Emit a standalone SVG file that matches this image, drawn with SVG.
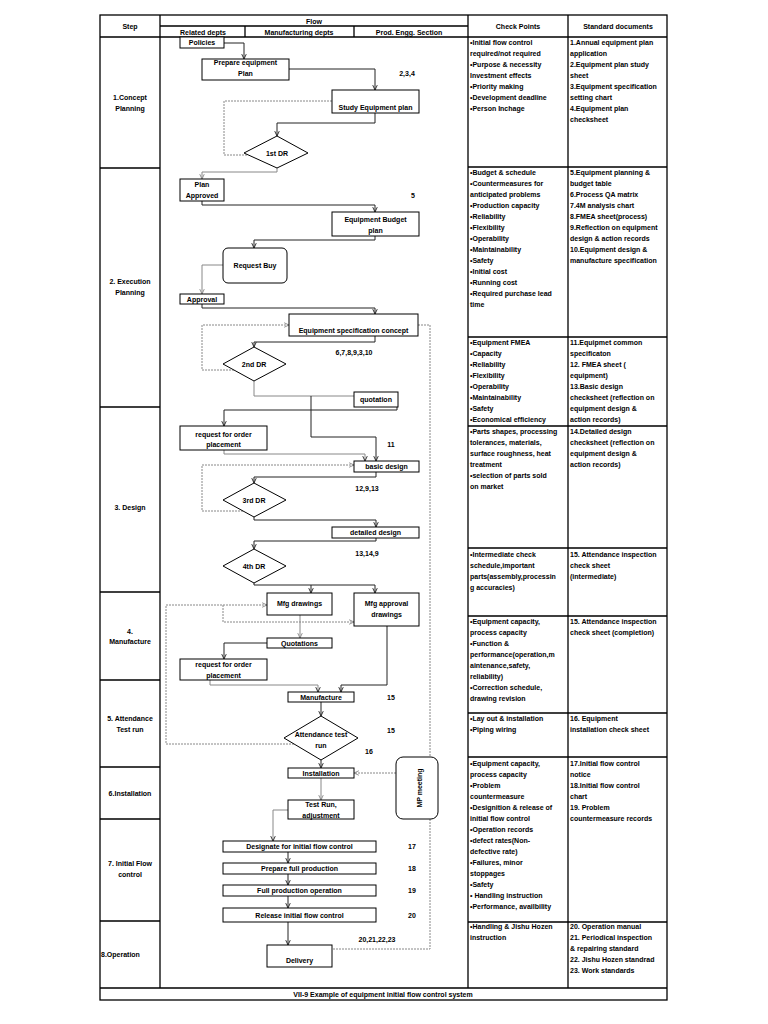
<svg xmlns="http://www.w3.org/2000/svg" width="768" height="1024" viewBox="0 0 768 1024">
<defs>
<style>
text{font-family:"Liberation Sans",Arial,sans-serif;font-weight:bold;font-size:7px;fill:#000}
.c{text-anchor:middle}
.t{stroke:#000;stroke-width:1.3;fill:none}
.n{fill:#fff;stroke:#000;stroke-width:1}
.k{fill:none;stroke:#222;stroke-width:1}
.g{fill:none;stroke:#888;stroke-width:1}
.d{fill:none;stroke:#888;stroke-width:1;stroke-dasharray:2,1}
</style>
<marker id="a" viewBox="0 0 8 8" refX="7.5" refY="4" markerWidth="6" markerHeight="6" markerUnits="userSpaceOnUse" orient="auto"><path d="M1,1 L7.5,4 L1,7" fill="none" stroke="#222" stroke-width="1.2"/></marker>
<marker id="ag" viewBox="0 0 8 8" refX="7.5" refY="4" markerWidth="6" markerHeight="6" markerUnits="userSpaceOnUse" orient="auto"><path d="M1,1 L7.5,4 L1,7" fill="none" stroke="#888" stroke-width="1.2"/></marker>
</defs>
<rect width="768" height="1024" fill="#fff"/>

<g id="table">
<rect class="t" x="100" y="15" width="567" height="985"/>
<path class="t" d="M160,15V988M468,15V988M568,15V988M100,37H667M160,26H468M245,26V37M354,26V37M100,988H667"/>
<path class="t" d="M100,168H160M100,407H160M100,592H160M100,680H160M100,767H160M100,819H160M100,921H160"/>
<path class="t" d="M468,167H667M468,337H667M468,426H667M468,548H667M468,616H667M468,713H667M468,757H667M468,922H667"/>
<text class="c" x="130" y="28.5">Step</text>
<text class="c" x="314" y="24">Flow</text>
<text class="c" x="203" y="34.5">Related depts</text>
<text class="c" x="299" y="34.5">Manufacturing depts</text>
<text class="c" x="409" y="34.5">Prod. Engg. Section</text>
<text class="c" x="518" y="28.5">Check Points</text>
<text class="c" x="618" y="28.5">Standard documents</text>
<text class="c" x="383" y="997">VII-9 Example of equipment initial flow control system</text>
</g>

<g id="steps">
<text class="c" x="130" y="99.5">1.Concept<tspan x="130" dy="11">Planning</tspan></text>
<text class="c" x="130" y="284">2. Execution<tspan x="130" dy="11">Planning</tspan></text>
<text class="c" x="130" y="510">3. Design</text>
<text class="c" x="130" y="634">4.<tspan x="130" dy="10">Manufacture</tspan></text>
<text class="c" x="130" y="720.5">5. Attendance<tspan x="130" dy="11">Test run</tspan></text>
<text class="c" x="130" y="795.5">6.Installation</text>
<text class="c" x="130" y="865.5">7. Initial Flow<tspan x="130" dy="11">control</tspan></text>
<text x="101" y="956.5">8.Operation</text>
</g>

<g id="checkpoints">
<text x="470" y="45"><tspan x="470">•Initial flow control</tspan><tspan x="470" dy="11">required/not required</tspan><tspan x="470" dy="11">•Purpose &amp; necessity</tspan><tspan x="470" dy="11">Investment effects</tspan><tspan x="470" dy="11">•Priority making</tspan><tspan x="470" dy="11">•Development deadline</tspan><tspan x="470" dy="11">•Person Inchage</tspan></text>
<text x="470" y="174.5"><tspan x="470">•Budget &amp; schedule</tspan><tspan x="470" dy="11">•Countermeasures for</tspan><tspan x="470" dy="11">anticipated problems</tspan><tspan x="470" dy="11">•Production capacity</tspan><tspan x="470" dy="11">•Reliability</tspan><tspan x="470" dy="11">•Flexibility</tspan><tspan x="470" dy="11">•Operability</tspan><tspan x="470" dy="11">•Maintainability</tspan><tspan x="470" dy="11">•Safety</tspan><tspan x="470" dy="11">•Initial cost</tspan><tspan x="470" dy="11">•Running cost</tspan><tspan x="470" dy="11">•Required purchase lead</tspan><tspan x="470" dy="11">time</tspan></text>
<text x="470" y="345"><tspan x="470">•Equipment FMEA</tspan><tspan x="470" dy="11">•Capacity</tspan><tspan x="470" dy="11">•Reliability</tspan><tspan x="470" dy="11">•Flexibility</tspan><tspan x="470" dy="11">•Operability</tspan><tspan x="470" dy="11">•Maintainability</tspan><tspan x="470" dy="11">•Safety</tspan><tspan x="470" dy="11">•Economical efficiency</tspan></text>
<text x="470" y="434"><tspan x="470">•Parts shapes, processing</tspan><tspan x="470" dy="11">tolerances, materials,</tspan><tspan x="470" dy="11">surface roughness, heat</tspan><tspan x="470" dy="11">treatment</tspan><tspan x="470" dy="11">•selection of parts sold</tspan><tspan x="470" dy="11">on market</tspan></text>
<text x="470" y="557"><tspan x="470">•Intermediate check</tspan><tspan x="470" dy="11">schedule,important</tspan><tspan x="470" dy="11">parts(assembly,processin</tspan><tspan x="470" dy="11">g accuracies)</tspan></text>
<text x="470" y="623.5"><tspan x="470">•Equipment capacity,</tspan><tspan x="470" dy="11">process capacity</tspan><tspan x="470" dy="11">•Function &amp;</tspan><tspan x="470" dy="11">performance(operation,m</tspan><tspan x="470" dy="11">aintenance,safety,</tspan><tspan x="470" dy="11">reliability)</tspan><tspan x="470" dy="11">•Correction schedule,</tspan><tspan x="470" dy="11">drawing revision</tspan></text>
<text x="470" y="720.5"><tspan x="470">•Lay out &amp; installation</tspan><tspan x="470" dy="11">•Piping wiring</tspan></text>
<text x="470" y="766"><tspan x="470">•Equipment capacity,</tspan><tspan x="470" dy="11">process capacity</tspan><tspan x="470" dy="11">•Problem</tspan><tspan x="470" dy="11">countermeasure</tspan><tspan x="470" dy="11">•Designition &amp; release of</tspan><tspan x="470" dy="11">initial flow control</tspan><tspan x="470" dy="11">•Operation records</tspan><tspan x="470" dy="11">•defect rates(Non-</tspan><tspan x="470" dy="11">defective rate)</tspan><tspan x="470" dy="11">•Failures, minor</tspan><tspan x="470" dy="11">stoppages</tspan><tspan x="470" dy="11">•Safety</tspan><tspan x="470" dy="11">• Handling instruction</tspan><tspan x="470" dy="11">•Performance, availbility</tspan></text>
<text x="470" y="928.5"><tspan x="470">•Handling &amp; Jishu Hozen</tspan><tspan x="470" dy="11">instruction</tspan></text>
</g>

<g id="standards">
<text x="570" y="45"><tspan x="570">1.Annual equipment plan</tspan><tspan x="570" dy="11">application</tspan><tspan x="570" dy="11">2.Equipment plan study</tspan><tspan x="570" dy="11">sheet</tspan><tspan x="570" dy="11">3.Equipment specification</tspan><tspan x="570" dy="11">setting chart</tspan><tspan x="570" dy="11">4.Equipment plan</tspan><tspan x="570" dy="11">checksheet</tspan></text>
<text x="570" y="174.5"><tspan x="570">5.Equipment planning &amp;</tspan><tspan x="570" dy="11">budget table</tspan><tspan x="570" dy="11">6.Process QA matrix</tspan><tspan x="570" dy="11">7.4M analysis chart</tspan><tspan x="570" dy="11">8.FMEA sheet(process)</tspan><tspan x="570" dy="11">9.Reflection  on equipment</tspan><tspan x="570" dy="11">design &amp; action records</tspan><tspan x="570" dy="11">10.Equipment design &amp;</tspan><tspan x="570" dy="11">manufacture specification</tspan></text>
<text x="570" y="345"><tspan x="570">11.Equipmet common</tspan><tspan x="570" dy="11">specificaton</tspan><tspan x="570" dy="11">12. FMEA sheet (</tspan><tspan x="570" dy="11">equipment)</tspan><tspan x="570" dy="11">13.Basic design</tspan><tspan x="570" dy="11">checksheet (reflection on</tspan><tspan x="570" dy="11">equipment design &amp;</tspan><tspan x="570" dy="11">action records)</tspan></text>
<text x="570" y="434"><tspan x="570">14.Detailed design</tspan><tspan x="570" dy="11">checksheet (reflection on</tspan><tspan x="570" dy="11">equipment design &amp;</tspan><tspan x="570" dy="11">action records)</tspan></text>
<text x="570" y="557"><tspan x="570">15. Attendance inspection</tspan><tspan x="570" dy="11">check sheet</tspan><tspan x="570" dy="11">(intermediate)</tspan></text>
<text x="570" y="623.5"><tspan x="570">15. Attendance inspection</tspan><tspan x="570" dy="11">check sheet (completion)</tspan></text>
<text x="570" y="720.5"><tspan x="570">16. Equipment</tspan><tspan x="570" dy="11">installation check sheet</tspan></text>
<text x="570" y="766"><tspan x="570">17.Initial flow control</tspan><tspan x="570" dy="11">notice</tspan><tspan x="570" dy="11">18.Initial flow control</tspan><tspan x="570" dy="11">chart</tspan><tspan x="570" dy="11">19. Problem</tspan><tspan x="570" dy="11">countermeasure records</tspan></text>
<text x="570" y="928.5"><tspan x="570">20. Operation manual</tspan><tspan x="570" dy="11">21. Periodical inspection</tspan><tspan x="570" dy="11">&amp; repairing standard</tspan><tspan x="570" dy="11">22. Jishu Hozen standrad</tspan><tspan x="570" dy="11">23. Work standards</tspan></text>
</g>

<g id="connectors">
<path class="k" marker-end="url(#a)" d="M224,43H244V59"/>
<path class="k" marker-end="url(#a)" d="M289,69H375V90"/>
<path class="k" marker-end="url(#a)" d="M375,113V123H277V136"/>
<path class="d" d="M247,155H224V101H332"/>
<path class="g" marker-end="url(#ag)" d="M277,168V172H202V179"/>
<path class="k" marker-end="url(#a)" d="M202,201V205H375V212"/>
<path class="k" marker-end="url(#a)" d="M375,236V240H254V248"/>
<path class="g" marker-end="url(#ag)" d="M223,265H202V294"/>
<path class="k" marker-end="url(#a)" d="M202,304V308H375V314"/>
<path class="k" marker-end="url(#a)" d="M375,336V342H254V347"/>
<path class="d" marker-end="url(#ag)" d="M234,370H202V325H289"/>
<path class="d" d="M418,325H430V757"/>
<path class="g" d="M254,381V396H354"/>
<path class="k" marker-end="url(#a)" d="M311,396V437H376V461"/>
<path class="k" marker-end="url(#a)" d="M397,407V410H224V426"/>
<path class="g" marker-end="url(#a)" d="M224,450V454H365V461"/>
<path class="d" marker-end="url(#ag)" d="M243,511H202V465H354"/>
<path class="k" marker-end="url(#a)" d="M376,472V477H254V483"/>
<path class="k" marker-end="url(#a)" d="M254,517V520H376V527"/>
<path class="k" marker-end="url(#a)" d="M376,538V541H254V549"/>
<path class="k" marker-end="url(#a)" d="M254,583V585H375V593"/>
<path class="k" marker-end="url(#a)" d="M311,585V593"/>
<path class="d" marker-end="url(#ag)" d="M294,744H166V605H267"/>
<path class="d" marker-end="url(#ag)" d="M223,605V622H354"/>
<path class="g" marker-end="url(#ag)" d="M300,615V638"/>
<path class="k" marker-end="url(#a)" d="M267,643H224V659"/>
<path class="g" marker-end="url(#a)" d="M210,680V685H318V692"/>
<path class="k" marker-end="url(#a)" d="M387,626V685H341V692"/>
<path class="k" marker-end="url(#a)" d="M321,702V716"/>
<path class="k" marker-end="url(#a)" d="M321,760V768"/>
<path class="d" marker-end="url(#ag)" d="M396,773H354"/>
<path class="g" marker-end="url(#ag)" d="M321,778V800"/>
<path class="g" marker-end="url(#a)" d="M288,810H273V841"/>
<path class="k" marker-end="url(#a)" d="M288,852V863"/>
<path class="k" marker-end="url(#a)" d="M288,874V885"/>
<path class="k" marker-end="url(#a)" d="M288,896V908"/>
<path class="k" marker-end="url(#a)" d="M288,922V945"/>
<path class="d" d="M430,819V949H332"/>
</g>

<g id="policies"><rect class="n" x="180" y="37" width="44" height="11"/><text class="c" x="202" y="45">Policies</text></g>
<g id="prepare-plan"><rect class="n" x="202" y="59" width="87" height="21"/><text class="c" x="245.5" y="65">Prepare equipment<tspan x="245.5" dy="10.5">Plan</tspan></text></g>
<g id="study-plan"><rect class="n" x="332" y="90" width="87" height="23"/><text class="c" x="375.5" y="110">Study Equipment plan</text></g>
<g id="dr1"><polygon class="n" points="277,136 308,153 277,168 244,153"/><text class="c" x="277" y="155.5">1st DR</text></g>
<g id="plan-approved"><rect class="n" x="180" y="179" width="44" height="22"/><text class="c" x="202" y="186.5">Plan<tspan x="202" dy="11">Approved</tspan></text></g>
<g id="budget-plan"><rect class="n" x="332" y="212" width="87" height="24"/><text class="c" x="375.5" y="221.8">Equipment Budget<tspan x="375.5" dy="10.7">plan</tspan></text></g>
<g id="request-buy"><rect class="n" x="223" y="248" width="64" height="35" rx="5"/><text class="c" x="255" y="267.5">Request Buy</text></g>
<g id="approval"><rect class="n" x="180" y="294" width="44" height="10"/><text class="c" x="202" y="301.5">Approval</text></g>
<g id="spec-concept"><rect class="n" x="289" y="314" width="129" height="22"/><text class="c" x="353.5" y="332.5">Equipment specification concept</text></g>
<g id="dr2"><polygon class="n" points="254,347 286,364 254,381 223,364"/><text class="c" x="254" y="366.5">2nd DR</text></g>
<g id="quotation"><rect class="n" x="354" y="392" width="44" height="15"/><text class="c" x="376" y="402">quotation</text></g>
<g id="request-order-1"><rect class="n" x="180" y="426" width="87" height="24"/><text class="c" x="223.5" y="436.5">request for order<tspan x="223.5" dy="10">placement</tspan></text></g>
<g id="basic-design"><rect class="n" x="354" y="461" width="65" height="11"/><text class="c" x="386.5" y="469">basic design</text></g>
<g id="dr3"><polygon class="n" points="254,483 286,500 254,517 223,500"/><text class="c" x="254" y="502.5">3rd DR</text></g>
<g id="detailed-design"><rect class="n" x="332" y="527" width="87" height="11"/><text class="c" x="375.5" y="535">detailed design</text></g>
<g id="dr4"><polygon class="n" points="254,549 286,566 254,583 223,566"/><text class="c" x="254" y="568.5">4th DR</text></g>
<g id="mfg-drawings"><rect class="n" x="267" y="593" width="65" height="22"/><text class="c" x="299.5" y="605.5">Mfg drawings</text></g>
<g id="mfg-approval"><rect class="n" x="354" y="593" width="65" height="33"/><text class="c" x="386.5" y="605.5">Mfg approval<tspan x="386.5" dy="11">drawings</tspan></text></g>
<g id="quotations"><rect class="n" x="267" y="638" width="65" height="10"/><text class="c" x="299.5" y="645.5">Quotations</text></g>
<g id="request-order-2"><rect class="n" x="180" y="659" width="87" height="21"/><text class="c" x="223.5" y="666.5">request for order<tspan x="223.5" dy="11">placement</tspan></text></g>
<g id="manufacture"><rect class="n" x="288" y="692" width="66" height="10"/><text class="c" x="321" y="699.5">Manufacture</text></g>
<g id="attendance"><polygon class="n" points="321,716 358,738 321,760 284,738"/><text class="c" x="321" y="736.5">Attendance test<tspan x="321" dy="11.5">run</tspan></text></g>
<g id="installation"><rect class="n" x="288" y="768" width="66" height="10"/><text class="c" x="321" y="775.5">Installation</text></g>
<g id="test-run"><rect class="n" x="288" y="800" width="66" height="19"/><text class="c" x="321" y="806.5">Test Run,<tspan x="321" dy="11">adjustment</tspan></text></g>
<g id="designate"><rect class="n" x="223" y="841" width="153" height="11"/><text class="c" x="299.5" y="849">Designate for initial flow control</text></g>
<g id="prepare-full"><rect class="n" x="223" y="863" width="153" height="11"/><text class="c" x="299.5" y="871">Prepare full production</text></g>
<g id="full-operation"><rect class="n" x="223" y="885" width="153" height="11"/><text class="c" x="299.5" y="893">Full production operation</text></g>
<g id="release"><rect class="n" x="223" y="908" width="153" height="14"/><text class="c" x="299.5" y="917.5">Release initial flow control</text></g>
<g id="delivery"><rect class="n" x="267" y="945" width="65" height="22"/><text class="c" x="299.5" y="962.5">Delivery</text></g>
<g id="mp-meeting"><rect class="n" x="396" y="757" width="42" height="62" rx="7"/><text class="c" transform="translate(422,788) rotate(-90)" x="0" y="0">MP meeting</text></g>

<g id="refs">
<text class="c" x="407" y="75.5">2,3,4</text>
<text class="c" x="413" y="198">5</text>
<text class="c" x="354" y="355">6,7,8,9,3,10</text>
<text class="c" x="391" y="446.5">11</text>
<text class="c" x="367" y="490.5">12,9,13</text>
<text class="c" x="367" y="555.5">13,14,9</text>
<text class="c" x="391" y="699.5">15</text>
<text class="c" x="391" y="732.5">15</text>
<text class="c" x="369" y="754">16</text>
<text class="c" x="412" y="849">17</text>
<text class="c" x="412" y="871">18</text>
<text class="c" x="412" y="893">19</text>
<text class="c" x="412" y="917.5">20</text>
<text class="c" x="377" y="941.5">20,21,22,23</text>
</g>
</svg>
